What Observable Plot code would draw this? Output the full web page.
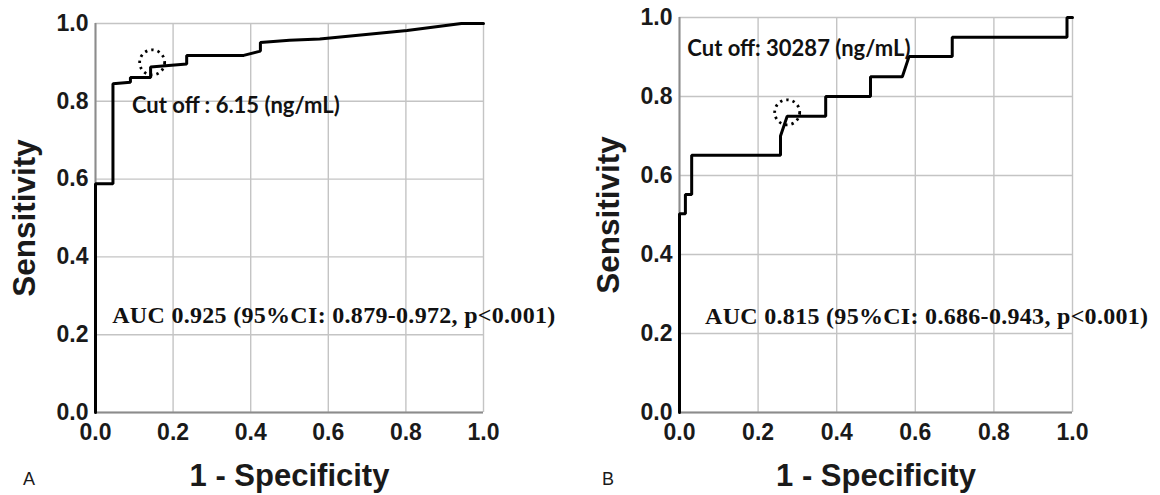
<!DOCTYPE html>
<html>
<head>
<meta charset="utf-8">
<script src="https://cdn.jsdelivr.net/npm/d3@7"></script>
<script src="https://cdn.jsdelivr.net/npm/@observablehq/plot@0.6"></script>
<style>
  html, body { margin: 0; padding: 0; background: #ffffff; }
  #wrap { position: relative; width: 1160px; height: 495px; background: #ffffff; }
  #panelA, #panelB { position: absolute; top: 0; }
  #panelA { left: 0; }
  #panelB { left: 580px; }
  .auc text { letter-spacing: 0.3px; }
</style>
</head>
<body>
<div id="wrap"><div id="panelA"></div><div id="panelB"></div></div>
<script>
// ---------- data ----------
const ticks = [0, 0.2, 0.4, 0.6, 0.8, 1.0];
const tickLabels = ["0.0", "0.2", "0.4", "0.6", "0.8", "1.0"];

// Panel A ROC curve vertices (1 - specificity, sensitivity)
const rocA_fpr = [0, 0, 0.045, 0.045, 0.090, 0.090, 0.142, 0.142, 0.235, 0.235, 0.382, 0.425, 0.425, 0.500, 0.578, 0.803, 0.943, 1.0];
const rocA_tpr = [0, 0.588, 0.588, 0.845, 0.849, 0.861, 0.861, 0.888, 0.896, 0.918, 0.918, 0.929, 0.951, 0.957, 0.960, 0.982, 1.0, 1.0];

// Panel B ROC curve vertices
const rocB_fpr = [0, 0, 0.015, 0.015, 0.031, 0.031, 0.257, 0.257, 0.274, 0.372, 0.372, 0.486, 0.486, 0.567, 0.584, 0.694, 0.694, 0.986, 0.986, 1.0];
const rocB_tpr = [0, 0.503, 0.503, 0.552, 0.552, 0.651, 0.651, 0.700, 0.750, 0.750, 0.800, 0.800, 0.850, 0.850, 0.901, 0.901, 0.950, 0.950, 1.0, 1.0];

// Cut-off markers
const cutA = {x: 0.146, y: 0.900};
const cutB = {x: 0.274, y: 0.760};

// Annotations
const cutTextA = {x: 0.094, y: 0.789, text: "Cut off : 6.15 (ng/mL)"};
const cutTextB = {x: 0.020, y: 0.921, text: "Cut off: 30287 (ng/mL)"};
const aucTextA = {x: 0.043, y: 0.249, text: "AUC 0.925 (95%CI: 0.879-0.972, p<0.001)"};
const aucTextB = {x: 0.065, y: 0.244, text: "AUC 0.815 (95%CI: 0.686-0.943, p<0.001)"};

const yTitle = "Sensitivity";
const xTitle = "1 - Specificity";
const panelLetters = ["A", "B"];

// ---------- drawing ----------
const SANS = "'Liberation Sans', Arial, sans-serif";
const SERIF = "'Liberation Serif', 'Times New Roman', serif";
const CALI = "Lato, 'Open Sans', sans-serif";

function panel({fpr, tpr, cut, cutText, aucText, letter, marginLeft, marginRight, marginTop, cutSize, aucSize}) {
  const pts = fpr.map((x, i) => ({x, y: tpr[i]}));
  const fmt = d => tickLabels[ticks.indexOf(d)] ?? d3.format(".1f")(d);
  return Plot.plot({
    width: 580,
    height: 495,
    marginLeft, marginRight, marginTop, marginBottom: 83,
    style: {background: "#ffffff", fontFamily: SANS, overflow: "visible"},
    x: {domain: [0, 1]},
    y: {domain: [0, 1]},
    marks: [
      Plot.gridX(ticks, {stroke: "#c4c4c4", strokeOpacity: 1, strokeWidth: 1.4}),
      Plot.gridY(ticks, {stroke: "#c4c4c4", strokeOpacity: 1, strokeWidth: 1.4}),
      Plot.ruleY([0], {stroke: "#8c8c8c", strokeWidth: 2}),
      Plot.ruleX([0], {stroke: "#8c8c8c", strokeWidth: 2}),
      Plot.axisX({ticks, tickFormat: fmt, tickSize: 0, tickPadding: 11, fontSize: 23, fontWeight: "bold", fill: "#1a1a1a", label: null}),
      Plot.axisY({ticks, tickFormat: fmt, tickSize: 0, tickPadding: 7, fontSize: 23, fontWeight: "bold", fill: "#1a1a1a", label: null}),
      Plot.line(pts, {x: "x", y: "y", stroke: "#000", strokeWidth: 3, curve: "linear", strokeLinejoin: "miter"}),
      Plot.dot([cut], {x: "x", y: "y", r: 12.5, fill: "none", stroke: "#000", strokeWidth: 2.8, strokeDasharray: "2.4 4"}),
      Plot.text([cutText], {x: "x", y: "y", text: "text", textAnchor: "start", lineAnchor: "middle", fontFamily: CALI, fontWeight: "bold", fontSize: cutSize, fill: "#111"}),
      Plot.text([aucText], {x: "x", y: "y", text: "text", textAnchor: "start", lineAnchor: "middle", fontFamily: SERIF, fontWeight: "bold", fontSize: aucSize, fill: "#111", className: "auc"}),
      Plot.text([yTitle], {frameAnchor: "left", dx: -(marginLeft - (letter === "A" ? 24 : 28)), rotate: -90, textAnchor: "middle", lineAnchor: "middle", fontSize: 31.5, fontWeight: "bold", fill: "#1a1a1a"}),
      Plot.text([xTitle], {frameAnchor: "bottom", dy: 64, textAnchor: "middle", lineAnchor: "middle", fontSize: 31, fontWeight: "bold", fill: "#1a1a1a"}),
      Plot.text([letter], {frameAnchor: "bottom-left", dx: -(marginLeft - (letter === "A" ? 28.5 : 27.5)), dy: 66.5, textAnchor: "middle", lineAnchor: "middle", fontSize: 18, fill: "#1a1a1a"})
    ]
  });
}

document.getElementById("panelA").appendChild(panel({
  fpr: rocA_fpr, tpr: rocA_tpr, cut: cutA, cutText: cutTextA, aucText: aucTextA, letter: panelLetters[0],
  marginLeft: 95, marginRight: 97, marginTop: 23, cutSize: 22, aucSize: 24
}));
document.getElementById("panelB").appendChild(panel({
  fpr: rocB_fpr, tpr: rocB_tpr, cut: cutB, cutText: cutTextB, aucText: aucTextB, letter: panelLetters[1],
  marginLeft: 99, marginRight: 88, marginTop: 17, cutSize: 22, aucSize: 24
}));
</script>
</body>
</html>
